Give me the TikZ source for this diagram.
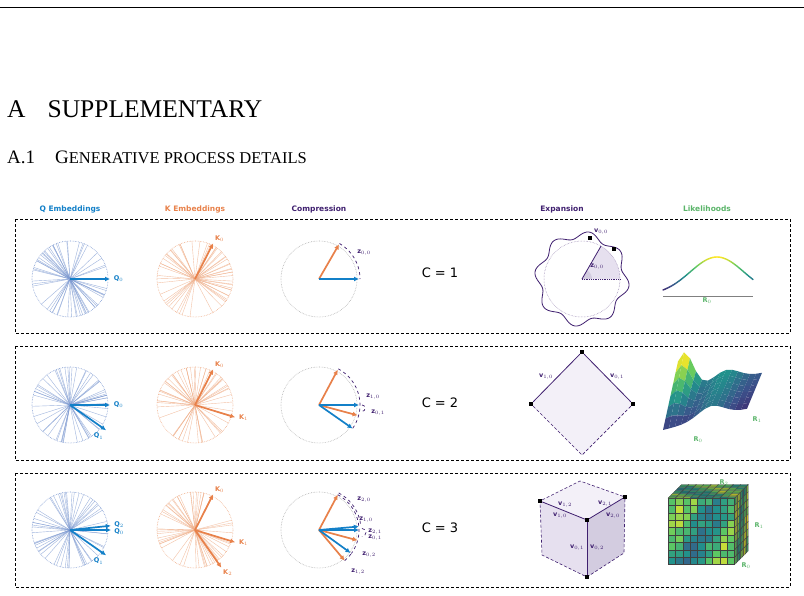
\documentclass[tikz,border=0pt]{standalone}
\usepackage{fontspec}
\setmainfont{Liberation Serif}
\setsansfont{DejaVu Sans}
\usetikzlibrary{arrows.meta}
\definecolor{qcol}{HTML}{1380C8}
\definecolor{kcol}{HTML}{E8814A}
\definecolor{pcol}{HTML}{3F1F6F}
\definecolor{gcol}{HTML}{5BB56A}
\definecolor{qray}{HTML}{7F9BD2}
\definecolor{kray}{HTML}{F0AE88}
\definecolor{vA}{HTML}{440154}
\definecolor{vB}{HTML}{3B528B}
\definecolor{vC}{HTML}{21918C}
\definecolor{vD}{HTML}{5EC962}
\definecolor{vE}{HTML}{FDE725}
\definecolor{lav1}{HTML}{F3F0F8}
\definecolor{lav2}{HTML}{E6E0EF}
\definecolor{lav3}{HTML}{D3CCE0}
\newcommand\virset[2]{%
 \pgfmathtruncatemacro\vk{min(3,max(0,floor(#1*4)))}%
 \pgfmathsetmacro\vp{max(0,min(100,(#1*4-\vk)*100))}%
 \ifcase\vk \colorlet{#2}{vB!\vp!vA}\or \colorlet{#2}{vC!\vp!vB}\or \colorlet{#2}{vD!\vp!vC}\else \colorlet{#2}{vE!\vp!vD}\fi}
\newcommand\fan[4]{% x y color seed
 \pgfmathsetseed{#4}%
 \foreach \i in {1,...,60}{\pgfmathsetmacro\a{rnd*360}\draw[#3,line width=0.4pt,opacity=0.75] (#1,#2) -- ++(\a:38);}
 \draw[#3,densely dotted,line width=0.6pt] (#1,#2) circle (38);}
\tikzset{
 arr/.style={line width=1.7pt,-{Latex[length=5pt,width=5pt]}},
 lab/.style={font=\sffamily\bfseries\fontsize{6.5}{7}\selectfont,inner sep=0pt},
 head/.style={font=\sffamily\bfseries\fontsize{7.5}{8}\selectfont},
 rowbox/.style={draw,densely dashed,line width=0.8pt},
 zarc/.style={pcol,dashed,line width=0.7pt},
 cnum/.style={font=\sffamily\fontsize{13}{14}\selectfont},
 vsq/.style={fill=black,minimum size=4pt,inner sep=0pt},
}
\begin{document}
\begin{tikzpicture}[x=1pt,y=-1pt]
\useasboundingbox (0,0) rectangle (804,595);
\fill[white] (0,0) rectangle (804,595);
\draw[line width=0.5pt] (0,7) -- (804,7);
\node[anchor=base west,inner sep=0pt,font=\fontsize{25.5}{27}\selectfont] (sec) at (7,117) {A\hspace{22pt}SUPPLEMENTARY};
\node[anchor=base west,inner sep=0pt,font=\fontsize{19}{20}\selectfont] (sub) at (7,163) {A.1\hspace{20pt}G{\fontsize{16.5}{17}\selectfont ENERATIVE PROCESS DETAILS}};
% headings
\node[head,text=qcol] (h1) at (70,209) {Q Embeddings};
\node[head,text=kcol] (h2) at (195,209) {K Embeddings};
\node[head,text=pcol] (h3) at (319,209) {Compression};
\node[head,text=pcol] (h4) at (562,209) {Expansion};
\node[head,text=gcol] (h5) at (707,209) {Likelihoods};
% boxes
\draw[rowbox] (15,219) rectangle (790,333);
\draw[rowbox] (15,346) rectangle (790,460);
\draw[rowbox] (15,473) rectangle (790,587);
% fans
\fan{70}{279}{qray}{11}\fan{195}{279}{kray}{12}
\fan{70}{405}{qray}{13}\fan{195}{405}{kray}{14}
\fan{70}{530}{qray}{15}\fan{195}{530}{kray}{16}
\foreach \yy in {279,405,530}{\draw[gray!60,densely dotted,line width=0.6pt] (319,\yy) circle (38);}
% row 1 embeddings
\draw[arr,qcol] (70,279) -- ++(0:40) node[lab,right=3pt] (q0a) {Q$_0$};
\draw[arr,kcol] (195,279) -- ++(-63:40) node[lab,above right=1pt] (k0a) {K$_0$};
\draw[arr,kcol] (319,279) -- ++(-60:40);
\draw[arr,qcol] (319,279) -- ++(0:40);
\draw[zarc] (319,279) ++(-60:41) arc[start angle=-60,end angle=0,radius=41];
\node[lab,text=pcol] (z00) at (364,253) {z$_{0,0}$};
% row 2
\draw[arr,qcol] (70,405) -- ++(0:40) node[lab,right=3pt] (q0b) {Q$_0$};
\draw[arr,qcol] (70,405) -- ++(35:44) node[lab,below left=2pt] (q1b) {Q$_1$};
\draw[arr,kcol] (195,405) -- ++(-63:40) node[lab,above right=1pt] (k0b) {K$_0$};
\draw[arr,kcol] (195,405) -- ++(17:42) node[lab,right=3pt] (k1b) {K$_1$};
\draw[arr,kcol] (319,405) -- ++(-62:40);
\draw[arr,kcol] (319,405) -- ++(15:40);
\draw[arr,qcol] (319,405) -- ++(0:40);
\draw[arr,qcol] (319,405) -- ++(35:41);
\draw[zarc] (319,405) ++(-62:41) arc[start angle=-62,end angle=35,radius=41];
\draw[zarc] (319,405) ++(0:43) arc[start angle=-90,end angle=90,radius=3.2];
\node[lab,text=pcol] (z10) at (373,397) {z$_{1,0}$};
\node[lab,text=pcol] (z01) at (378,413) {z$_{0,1}$};
\node[cnum] (c1) at (440,273) {C = 1};
\node[cnum] (c2) at (440,403) {C = 2};
\node[cnum] (c3) at (440,528) {C = 3};
% row 3
\draw[arr,qcol] (70,530) -- ++(-6:41);
\draw[arr,qcol] (70,530) -- ++(0:41);
\node[lab,text=qcol] (q2c) at (119,525) {Q$_2$};
\node[lab,text=qcol] (q0c) at (119,532) {Q$_0$};
\draw[arr,qcol] (70,530) -- ++(35:44) node[lab,below left=2pt] (q1c) {Q$_1$};
\draw[arr,kcol] (195,530) -- ++(-63:40) node[lab,above right=1pt] (k0c) {K$_0$};
\draw[arr,kcol] (195,530) -- ++(17:42) node[lab,right=3pt] (k1c) {K$_1$};
\draw[arr,kcol] (195,530) -- ++(55:46) node[lab,below right=1pt] (k2c) {K$_2$};
\draw[arr,kcol] (319,530) -- ++(-62:40);
\draw[arr,kcol] (319,530) -- ++(15:40);
\draw[arr,kcol] (319,530) -- ++(50:40);
\draw[arr,qcol] (319,530) -- ++(-5:40);
\draw[arr,qcol] (319,530) -- ++(0:40);
\draw[arr,qcol] (319,530) -- ++(36:39);
\draw[zarc] (319,530) ++(-62:42) arc[start angle=-62,end angle=-5,radius=42];
\draw[zarc] (319,530) ++(-62:40) arc[start angle=-62,end angle=36,radius=40];
\draw[zarc] (319,530) ++(-2:43) arc[start angle=-90,end angle=90,radius=4];
\draw[zarc] (319,530) ++(50:40) arc[start angle=50,end angle=36,radius=42];
\node[lab,text=pcol] (z20) at (364,500) {z$_{2,0}$};
\node[lab,text=pcol] (z1c) at (366,520) {z$_{1,0}$};
\node[lab,text=pcol] (z21) at (375,532) {z$_{2,1}$};
\node[lab,text=pcol] (z01c) at (375,538) {z$_{0,1}$};
\node[lab,text=pcol] (z02) at (369,555) {z$_{0,2}$};
\node[lab,text=pcol] (z12) at (358,572) {z$_{1,2}$};
% row 1 expansion
\fill[lav2] (582,279) -- ++(0:38) arc[start angle=0,end angle=-60,radius=38] -- cycle;
\fill[lav3] (582,279) -- ++(0:10) arc[start angle=0,end angle=-60,radius=10] -- cycle;
\draw[pcol,line width=0.8pt] (582,279) -- ++(-60:38);
\draw[pcol,densely dotted,line width=0.8pt] (582,279) -- ++(0:38);
\draw[pcol!60,densely dotted,line width=0.5pt] (582,279) circle (38);
\draw[pcol,line width=0.8pt,smooth] plot[domain=0:360,samples=150] ({582+(44+3.5*sin(8*\x+20))*cos(\x)},{279+(44+3.5*sin(8*\x+20))*sin(\x)});
\node[vsq] (sq1) at (590,238) {};
\node[vsq] (sq2) at (614,249) {};
\node[lab,text=pcol] (v00) at (601,232) {v$_{0,0}$};
\node[lab,text=pcol] (zz00) at (597,267) {z$_{0,0}$};
% row 1 likelihood
\draw[gray,line width=0.8pt] (663,296) -- (753,296);
\foreach \i in {0,...,44}{
 \pgfmathsetmacro\xa{663+2*\i}\pgfmathsetmacro\xb{\xa+2}
 \pgfmathsetmacro\ha{exp(-((\xa-717)/38)^2)}\pgfmathsetmacro\hb{exp(-((\xb-717)/38)^2)}
 \virset{(\ha+\hb)/2}{cc}
 \draw[cc,line width=1.4pt,line cap=round] (\xa,{295-38*\ha}) -- (\xb,{295-38*\hb});}
\node[lab,text=gcol] (r0a) at (707,301) {R$_0$};
% row 2 expansion
\node[vsq] (dt) at (582,352) {};
\node[vsq] (dl) at (531,404) {};
\node[vsq] (dr) at (633,404) {};
\coordinate (db) at (582,455);
\fill[lav1] (dt.center) -- (dr.center) -- (db) -- (dl.center) -- cycle;
\draw[pcol,line width=0.8pt] (dl) -- (dt) -- (dr);
\draw[pcol,densely dashed,line width=0.7pt] (dl) -- (db) -- (dr);
\node[vsq] at (582,352) {};\node[vsq] at (531,404) {};\node[vsq] at (633,404) {};
\node[lab,text=pcol] (v10) at (546,377) {v$_{1,0}$};
\node[lab,text=pcol] (v01) at (617,377) {v$_{0,1}$};
% row 2 likelihood surface
\foreach \j in {6,...,1}{
 \foreach \i in {0,...,13}{
  \pgfmathsetmacro\ia{\i}\pgfmathsetmacro\ib{\i+1}
  \pgfmathsetmacro\ja{\j}\pgfmathsetmacro\jb{\j-1}
  \pgfmathsetmacro\haa{40*exp(-((\ia-1)/2.2)^2)*(\ja/6)+12*exp(-((\ia-8)/3)^2)+6*\ja/6}
  \pgfmathsetmacro\hba{40*exp(-((\ib-1)/2.2)^2)*(\ja/6)+12*exp(-((\ib-8)/3)^2)+6*\ja/6}
  \pgfmathsetmacro\hab{40*exp(-((\ia-1)/2.2)^2)*(\jb/6)+12*exp(-((\ia-8)/3)^2)+6*\jb/6}
  \pgfmathsetmacro\hbb{40*exp(-((\ib-1)/2.2)^2)*(\jb/6)+12*exp(-((\ib-8)/3)^2)+6*\jb/6}
  \virset{min(1,(\haa+\hbb)/2/48+0.15)}{cc}
  \fill[cc] ({663+6*\ia+2.5*\ja},{430-3*\ia/2-5*\ja-\haa}) -- ({663+6*\ib+2.5*\ja},{430-3*\ib/2-5*\ja-\hba}) -- ({663+6*\ib+2.5*\jb},{430-3*\ib/2-5*\jb-\hbb}) -- ({663+6*\ia+2.5*\jb},{430-3*\ia/2-5*\jb-\hab}) -- cycle;
 }}
\node[lab,text=gcol] (r1b) at (757,420) {R$_1$};
\node[lab,text=gcol] (r0b) at (698,440) {R$_0$};
% row 3 cube
\coordinate (cb) at (580,481);
\coordinate (clb) at (542,555);
\coordinate (crb) at (624,553);
\fill[lav1] (540,501) -- (cb) -- (625,497) -- (587,520) -- cycle;
\fill[lav2] (540,501) -- (587,520) -- (587,577) -- (clb) -- cycle;
\fill[lav3] (587,520) -- (625,497) -- (crb) -- (587,577) -- cycle;
\node[vsq] (cl) at (540,501) {};
\node[vsq] (cr) at (625,497) {};
\node[vsq] (cc0) at (587,520) {};
\node[vsq] (cd) at (587,577) {};
\draw[pcol,line width=0.8pt] (cl) -- (cc0) -- (cr);
\draw[pcol,line width=0.8pt] (cc0) -- (cd);
\draw[pcol,densely dashed,line width=0.6pt] (cl) -- (cb) -- (cr) -- (crb) -- (cd) -- (clb) -- (cl);
\node[lab,text=pcol] (v12) at (565,505) {v$_{1,2}$};
\node[lab,text=pcol] (v21) at (605,504) {v$_{2,1}$};
\node[lab,text=pcol] (v10c) at (560,516) {v$_{1,0}$};
\node[lab,text=pcol] (v20) at (613,516) {v$_{2,0}$};
\node[lab,text=pcol] (v01c) at (577,548) {v$_{0,1}$};
\node[lab,text=pcol] (v02) at (597,548) {v$_{0,2}$};
% row 3 voxel cube
\pgfmathsetseed{7}
\foreach \i in {0,...,8}{\foreach \j in {0,...,8}{
 \pgfmathsetmacro\t{0.5+0.18*sin(40*\i+25*\j)+0.25*rnd}\virset{\t}{cc}
 \filldraw[fill=cc,draw=black!75,line width=0.3pt] ({668+7.4*\i},{498+7.4*\j}) rectangle ++(7.4,7.4);
 \pgfmathsetmacro\t{0.55+0.18*cos(35*\i+30*\j)+0.25*rnd}\virset{\t}{cc}
 \filldraw[fill=cc!85!black,draw=black!75,line width=0.3pt] ({668+7.4*\i+1.5*\j},{498-1.5*\j}) -- ++(7.4,0) -- ++(1.5,-1.5) -- ++(-7.4,0) -- cycle;
 \pgfmathsetmacro\t{0.6+0.2*sin(50*\i+20*\j)+0.25*rnd}\virset{\t}{cc}
 \filldraw[fill=cc!85!black,draw=black!75,line width=0.3pt] ({734.6+1.5*\i},{498-1.5*\i+7.4*\j}) -- ++(1.5,-1.5) -- ++(0,7.4) -- ++(-1.5,1.5) -- cycle;
}}
\node[lab,text=gcol] (r2c) at (724,483) {R$_2$};
\node[lab,text=gcol] (r1c) at (759,526) {R$_1$};
\node[lab,text=gcol] (r0c) at (746,566) {R$_0$};
\end{tikzpicture}
\end{document}
